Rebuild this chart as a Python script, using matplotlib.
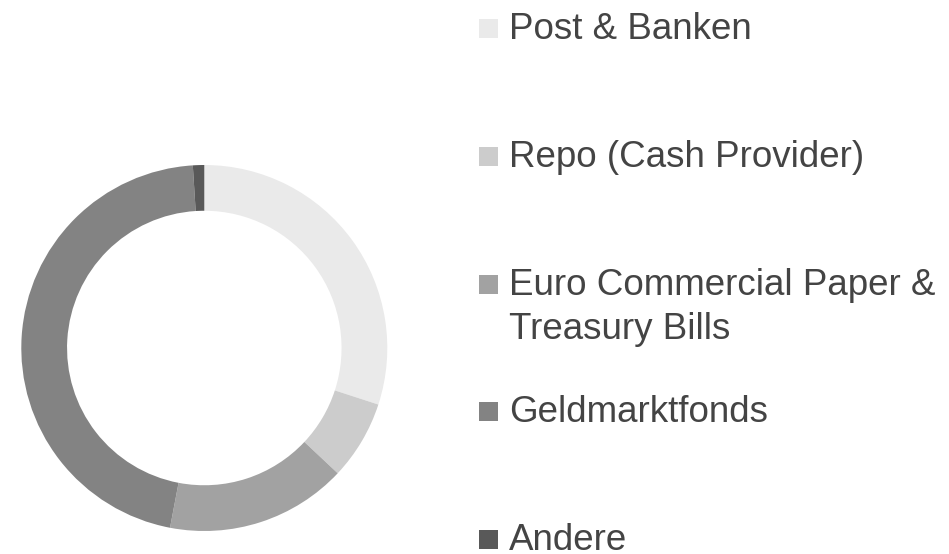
import matplotlib
matplotlib.use("Agg")
import matplotlib.pyplot as plt
from matplotlib.patches import Rectangle

# shares of the portfolio (percent), clockwise from 12 o'clock
labels = ["Post & Banken", "Repo (Cash Provider)",
          "Euro Commercial Paper &\nTreasury Bills", "Geldmarktfonds", "Andere"]
values = [30, 7, 16, 46, 1]
colors = ["#EAEAEA", "#CCCCCC", "#A2A2A2", "#838383", "#595959"]

W, H = 949, 554
fig = plt.figure(figsize=(W / 100, H / 100), dpi=100)
plt.rcParams['font.family'] = ['Liberation Sans', 'DejaVu Sans']

# donut
cx, cy, r = 204.3, 348, 183
ax = fig.add_axes([(cx - r) / W, (H - cy - r) / H, 2 * r / W, 2 * r / H])
ax.pie(values, colors=colors, startangle=90, counterclock=False, radius=1,
       wedgeprops=dict(width=0.25, linewidth=0))
ax.set_xlim(-1, 1)
ax.set_ylim(-1, 1)
ax.set_aspect('equal')
ax.axis('off')

# legend drawn by hand: square + text, one row every ~127.7 px
text_color = "#444444"
for i, (lab, col) in enumerate(zip(labels, colors)):
    yc = 28.8 + i * 127.7
    fig.patches.append(Rectangle((479 / W, (H - yc - 9.5) / H), 19 / W, 19 / H,
                                 transform=fig.transFigure, color=col, lw=0))
    for j, line in enumerate(lab.split("\n")):
        fig.text(509 / W, (H - (yc + 10.5 + j * 44)) / H, line,
                 fontsize=26.5, color=text_color, va='baseline', ha='left')

fig.savefig("out.png", dpi=100)
